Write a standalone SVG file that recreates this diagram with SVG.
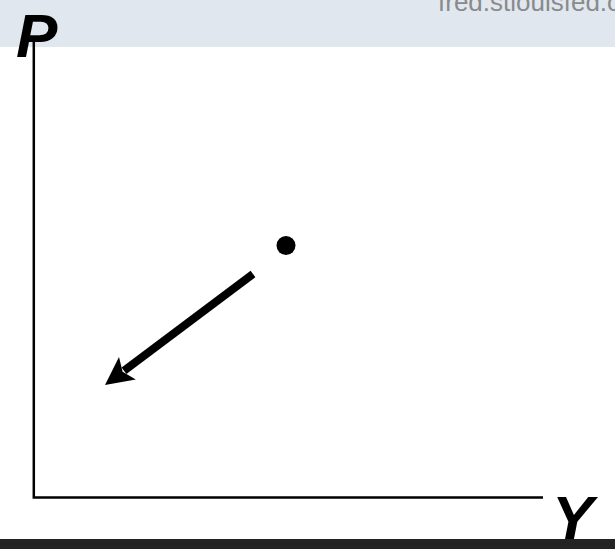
<svg xmlns="http://www.w3.org/2000/svg" width="615" height="549" viewBox="0 0 615 549">
<style>
.axislabel{font-family:"Liberation Sans",Arial,sans-serif;font-weight:bold;font-style:italic;font-size:62px;fill:#000}
.axis{stroke:#000;stroke-width:2.5;fill:none}
</style>
<rect width="615" height="549" fill="#fff"/>
<rect width="615" height="47" fill="#e0e7ef"/>
<text x="438" y="11" font-family="'Liberation Sans',Arial,sans-serif" font-size="26" fill="#8a8a8a">fred.stlouisfed.org</text>
<g id="axes">
<path class="axis" d="M33.8,42 V497.5 H543"/>
</g>
<g id="label-P"><text class="axislabel" x="16" y="57">P</text></g>
<g id="label-Y"><text class="axislabel" x="552" y="539">Y</text></g>
<g id="point"><circle cx="286" cy="245.5" r="9.5" fill="#000"/></g>
<g id="connectors">
<line x1="253" y1="274" x2="124" y2="370.8" stroke="#000" stroke-width="8"/>
<polygon points="105,385 119,357 122.6,371.8 135.8,379.4" fill="#000"/>
</g>
<rect y="539" width="615" height="10" fill="#232323"/>
</svg>
